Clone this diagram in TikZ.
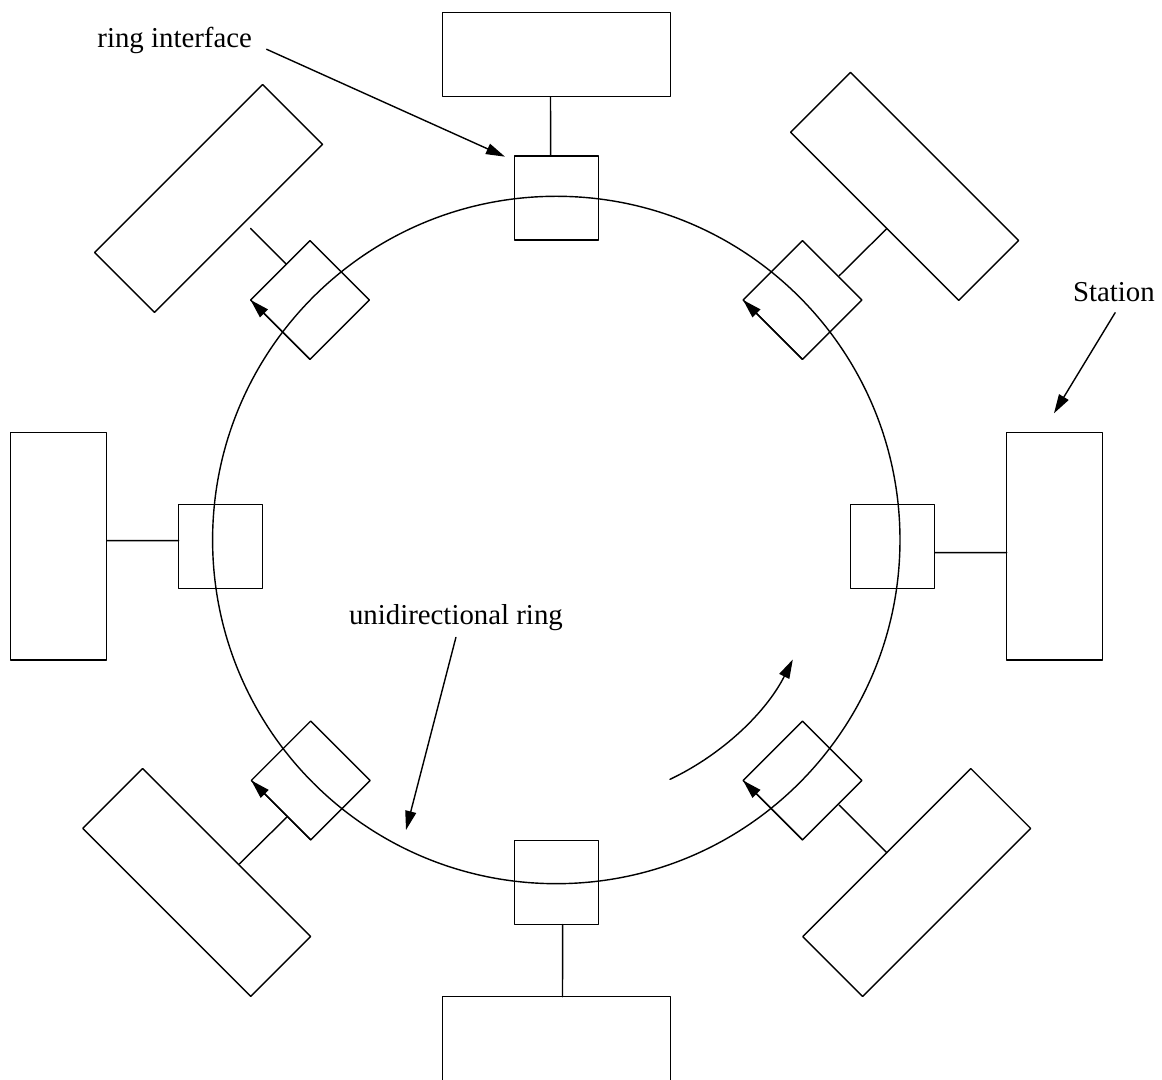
\documentclass[tikz,border=0pt]{standalone}
\usepackage{fontspec}
\setmainfont{Liberation Serif}
\usetikzlibrary{arrows.meta,calc}

\begin{document}
\begin{tikzpicture}[line cap=round,line join=round,>={Triangle[length=0.19cm,width=0.11cm]},x=0.01cm,y=-0.01cm,line width=0.4pt,
        iface/.style={draw, minimum size=0.84cm, inner sep=0pt, outer sep=0pt},
        hstation/.style={draw, minimum width=2.284cm, minimum height=0.844cm, inner sep=0pt, outer sep=0pt},
        vstation/.style={draw, minimum width=0.96cm, minimum height=2.277cm, inner sep=0pt, outer sep=0pt},
        dstation/.style={draw, minimum width=2.375cm, minimum height=0.846cm, inner sep=0pt, outer sep=0pt},
        lbl/.style={inner sep=0pt, font=\fontsize{8.2}{10}\selectfont}]
    \useasboundingbox (0,0) rectangle (1162,1080);

    % The ring
    \draw(556.3,540) node[circle,draw,minimum size=6.87cm,inner sep=0pt,outer sep=0pt] (ring) {};

    % Ring interfaces
    \draw(556.7,198) node[iface] (ri-n) {};
    \draw(892.7,546.3) node[iface] (ri-e) {};
    \draw(556.7,882.5) node[iface] (ri-s) {};
    \draw(220.7,546.3) node[iface] (ri-w) {};
    \draw(310,300) node[iface,rotate=45] (ri-nw) {};
    \draw(802.5,300) node[iface,rotate=45] (ri-ne) {};
    \draw(310.7,780.5) node[iface,rotate=45] (ri-sw) {};
    \draw(802.5,780.5) node[iface,rotate=45] (ri-se) {};

    % Stations
    \draw(556.5,54.5) node[hstation] (st-n) {};
    \draw(1054.7,546.2) node[vstation] (st-e) {};
    \draw(556.5,1038.9) node[hstation] (st-s) {};
    \draw(58.7,546.2) node[vstation] (st-w) {};
    \draw(208.6,198.5) node[dstation,rotate=45] (st-nw) {};
    \draw(904.6,186.4) node[dstation,rotate=-45] (st-ne) {};
    \draw(196.7,882.5) node[dstation,rotate=-45] (st-sw) {};
    \draw(916.7,882.5) node[dstation,rotate=45] (st-se) {};

    % Station to interface lines
    \foreach \source/\sx/\sy/\target/\tx/\ty in {st-n.south/-6/0/ri-n.north/-6/0,
            st-e.west/0/6.4/ri-e.east/0/6.4, st-s.north/6/0/ri-s.south/6/0,
            st-w.east/0/-5.6/ri-w.west/0/-5.6, st-nw.south/12/0/ri-nw.north/6/-6,
            st-ne.south/12/12.4/ri-ne.east/7/5.5, st-sw.north/12.7/11.4/ri-sw.west/5.7/7.1,
            st-se.north/0/0/ri-se.south/7/-5} {
            \draw ([shift={(\sx,\sy)}]\source) -- ([shift={(\tx,\ty)}]\target);
        }

    % Direction marks in the tilted interfaces
    \foreach \iface in {ri-nw, ri-ne, ri-sw, ri-se} {
            \draw[->] (\iface.south west) -- (\iface.north west);
        }
    \draw[->] ($(ring.center)+(64.6:265)$) arc[start angle=64.6, end angle=26.8, radius=265];

    % Labels
    \draw(96.7,47.7) node[lbl,anchor=base west] (lbl-ri) {ring interface};
    \draw(1072.3,301.7) node[lbl,anchor=base west] (lbl-st) {Station};
    \draw(348.3,625) node[lbl,anchor=base west] (lbl-ring) {unidirectional ring};

    \coordinate (tip-ri) at (505,156.7);
    \coordinate (tip-st) at (1054,413.3);
    \coordinate (tip-ring) at (406,830);
    \draw[->] ([shift={(14,1.6)}]lbl-ri.base east) -- (tip-ri);
    \draw[->] ([shift={(1.3,10)}]lbl-st.south) -- (tip-st);
    \draw[->] ([shift={(0,5.5)}]lbl-ring.south) -- (tip-ring);
\end{tikzpicture}
\end{document}
